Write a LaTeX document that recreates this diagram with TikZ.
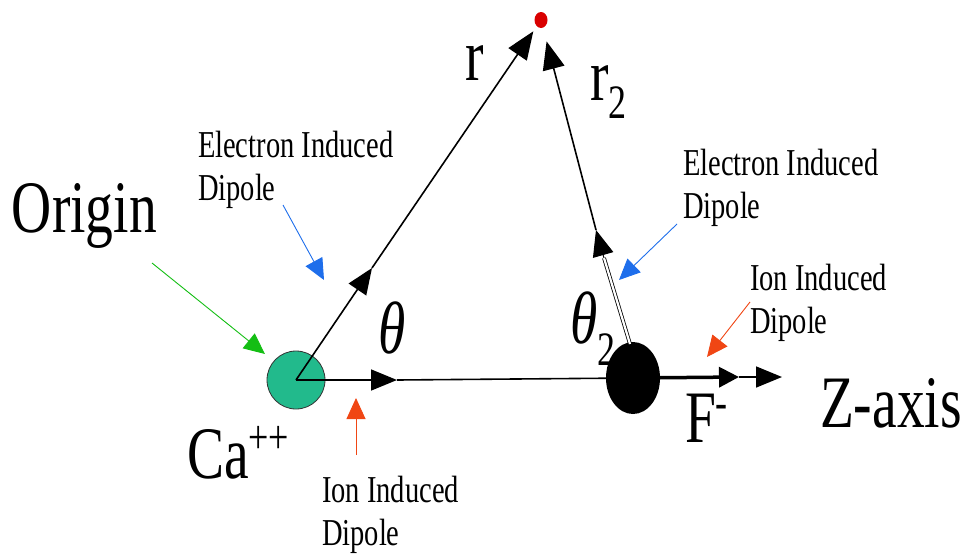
\documentclass[tikz,border=0pt]{standalone}
\usepackage{fontspec}
\setmainfont{Liberation Serif}
\usetikzlibrary{arrows.meta,shapes.geometric}
\definecolor{caTeal}{RGB}{34,186,140}
\definecolor{arBlue}{RGB}{30,110,235}
\definecolor{arGreen}{RGB}{20,190,20}
\definecolor{arRed}{RGB}{240,70,20}
\newcommand\bigtxt[1]{\scalebox{0.75}[1]{\fontsize{74}{80}\selectfont #1}}
\newcommand\smtxt[1]{\scalebox{0.75}[1]{\fontsize{38}{43}\selectfont #1}}
\begin{document}
\begin{tikzpicture}[x=1pt,y=-1pt,
  blk/.style={line width=1.6pt},
  mtip/.style={-{Triangle[length=26pt,width=21pt]}},
  ctip/.style={line width=0.9pt,-{Triangle[length=21pt,width=19pt]}},
  lbl/.style={anchor=base west,inner sep=0pt,outer sep=0pt},
]
\useasboundingbox (0,0) rectangle (968,554);
% particles
\node[circle,draw=black!80,line width=0.8pt,fill=caTeal,minimum size=58pt,inner sep=0pt] (Ca) at (296,380) {};
\node[ellipse,fill=black,minimum width=54pt,minimum height=72pt,inner sep=0pt] (F) at (633,378) {};
\node[ellipse,fill=red!85!black,minimum width=13pt,minimum height=16pt,inner sep=0pt] (P) at (541,20) {};
% coordinates
\coordinate (rm) at (372,268);
\coordinate (hm) at (397,380);
\coordinate (fm) at (739,377);
\coordinate (zend) at (782,377);
\coordinate (r2s) at (630,344);
\coordinate (r2a) at (604,258);
\coordinate (r2m) at (596,230);
% r vector
\draw[blk,mtip] (Ca.center) -- (rm);
\draw[blk,-{Triangle[length=28pt,width=22pt]},shorten >=6pt] (rm) -- (P);
% z axis
\draw[blk,mtip] (Ca.center) -- (hm);
\draw[blk] (hm) -- (F.center);
\draw[line width=3.5pt,-{Triangle[length=20pt,width=20pt]}] (F.center) -- (fm);
\draw[blk,mtip] (fm) -- (zend);
% r2 vector
\draw[line width=0.8pt,double=white,double distance=2.2pt] (r2s) -- (r2a);
\draw[line width=1pt,mtip] (r2a) -- (r2m);
\draw[blk,-{Triangle[length=28pt,width=22pt]},shorten >=14pt] (r2m) -- (P);
% labels
\node[lbl] (org) at (12,232) {\bigtxt{Origin}};
\node[lbl] (rl) at (465,80) {\bigtxt{r}};
\node[lbl] (r2l) at (590,100) {\bigtxt{r\raisebox{-18pt}{\fontsize{48}{50}\selectfont 2}}};
\node[lbl] (th) at (378,353) {\bigtxt{\itshape θ}};
\node[lbl] (th2) at (570,343) {\bigtxt{\itshape θ\upshape\raisebox{-22pt}{\fontsize{48}{50}\selectfont 2}}};
\node[lbl] (cal) at (187,478) {\bigtxt{Ca\raisebox{25pt}{\fontsize{48}{50}\selectfont ++}}};
\node[lbl] (fl) at (685,442) {\bigtxt{F\raisebox{24pt}{\fontsize{48}{50}\selectfont -}}};
\node[lbl] (zl) at (820,427) {\bigtxt{Z-axis}};
\node[lbl] (e1a) at (198,157) {\smtxt{Electron Induced}};
\node[lbl] (e1b) at (198,200) {\smtxt{Dipole}};
\node[lbl] (e2a) at (683,175) {\smtxt{Electron Induced}};
\node[lbl] (e2b) at (683,218) {\smtxt{Dipole}};
\node[lbl] (i1a) at (750,290) {\smtxt{Ion Induced}};
\node[lbl] (i1b) at (750,333) {\smtxt{Dipole}};
\node[lbl] (i2a) at (322,502) {\smtxt{Ion Induced}};
\node[lbl] (i2b) at (322,545) {\smtxt{Dipole}};
% pointer arrows
\coordinate (gS) at (152,263); \coordinate (gE) at (265,354);
\coordinate (b1S) at (283,205); \coordinate (b1E) at (324,280);
\coordinate (b2S) at (677,224); \coordinate (b2E) at (619,280);
\coordinate (o1S) at (750,302); \coordinate (o1E) at (707,357);
\coordinate (o2S) at (356,455); \coordinate (o2E) at (356,398);
\draw[ctip,arGreen] (gS) -- (gE);
\draw[ctip,arBlue] (b1S) -- (b1E);
\draw[ctip,arBlue] (b2S) -- (b2E);
\draw[ctip,arRed] (o1S) -- (o1E);
\draw[ctip,arRed] (o2S) -- (o2E);
\end{tikzpicture}
\end{document}
